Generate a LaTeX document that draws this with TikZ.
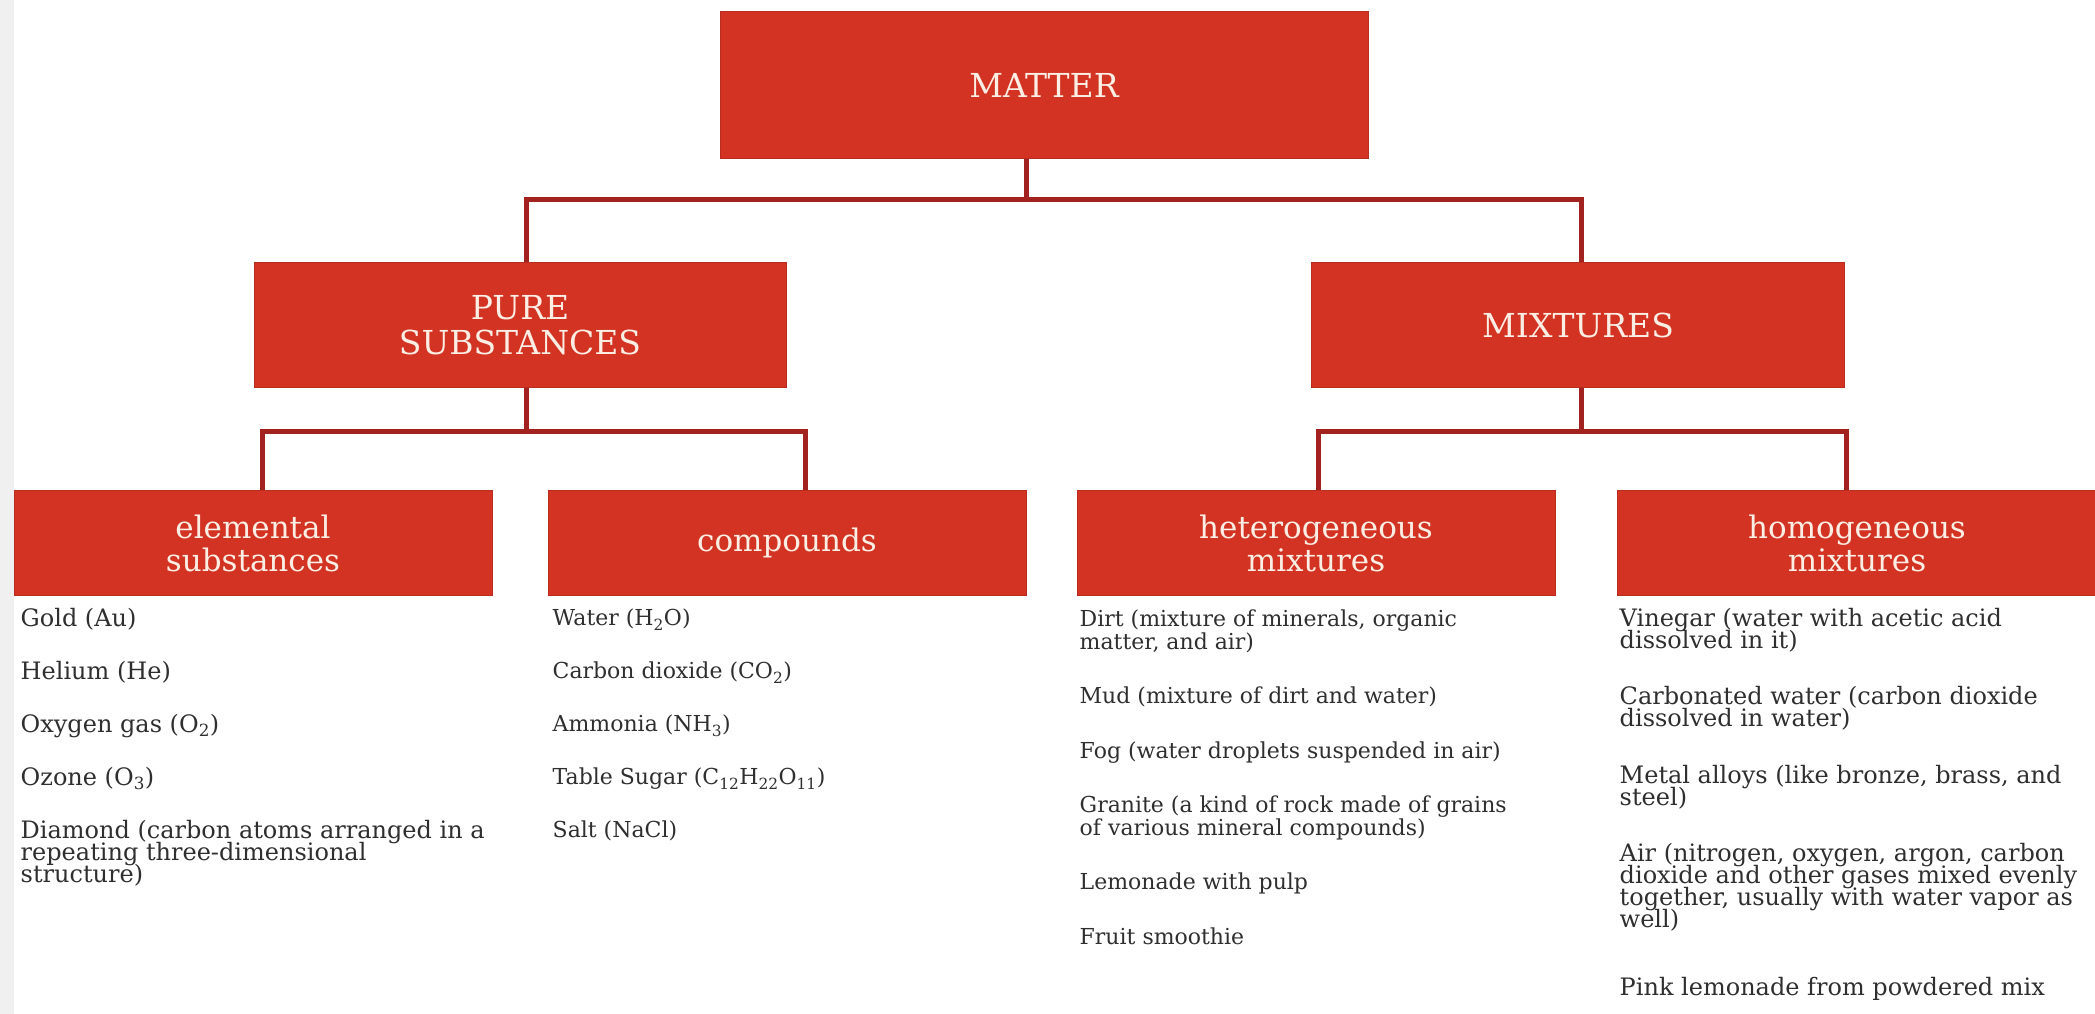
\documentclass[tikz,border=0pt]{standalone}
\usepackage{fontspec}
\setmainfont{DejaVu Serif}
\usetikzlibrary{positioning}

\definecolor{boxred}{HTML}{D23322}
\definecolor{linered}{HTML}{A1221E}
\definecolor{boxtext}{HTML}{FCEEE4}
\definecolor{listtext}{HTML}{2F2F2F}
\definecolor{edgegray}{HTML}{F0F0F0}

\newcommand{\itemgap}[1][32pt]{\\[#1]}
\newcommand{\tightlines}{\lineskiplimit-20pt\relax}

\begin{document}
\begin{tikzpicture}[x=1pt, y=-1pt, node distance=55pt]

        \tikzstyle{head}=[fill=boxred, draw=boxred!88!black, line width=1pt, text=boxtext, align=center, inner sep=0pt, font=\fontsize{33}{35}\selectfont]
        \tikzstyle{sub}=[head, minimum width=478pt, minimum height=105pt, font=\fontsize{31}{33}\selectfont]
        \tikzstyle{list}=[align=left, inner sep=0pt, text=listtext, font=\fontsize{22}{22.5}\selectfont\tightlines]
        \tikzstyle{biglist}=[list, font=\fontsize{24}{22}\selectfont\tightlines]
        \tikzstyle{link}=[draw=linered, line width=5pt]

        \useasboundingbox (0,0) rectangle (2095,1014);
        \fill[edgegray] (0,0) rectangle (2095,1014);
        \fill[white] (14,0) rectangle (2095,1014);

        \node[head, minimum width=648pt, minimum height=146pt] (matter) at (1044,85) {MATTER};
        \node[head, minimum width=532pt, minimum height=125pt] (pure) at (520,325) {PURE\\SUBSTANCES};
        \node[head, minimum width=533pt, minimum height=125pt] (mix) at (1578,325) {MIXTURES};

        \node[sub] (elem) at (253,543) {elemental\\substances};
        \node[sub] (comp) [right=55pt of elem] {compounds};
        \node[sub] (hetero) [right=50pt of comp] {heterogeneous\\mixtures};
        \node[sub, minimum width=480pt] (homo) [right=61pt of hetero] {homogeneous\\mixtures};

        \node[biglist] (elemlist) [below right=12pt and 7pt of elem.south west]
            {Gold (Au)\itemgap[31pt] Helium (He)\itemgap[31pt] Oxygen gas (O\textsubscript{2})\itemgap[31pt]
             Ozone (O\textsubscript{3})\itemgap[31pt] Diamond (carbon atoms arranged in a\\
             repeating three-dimensional\\ structure)};
        \node[list] (complist) [below right=13pt and 5pt of comp.south west]
            {Water (H\textsubscript{2}O)\itemgap[30.5pt] Carbon dioxide (CO\textsubscript{2})\itemgap[30.5pt]
             Ammonia (NH\textsubscript{3})\itemgap[30.5pt]
             Table Sugar (C\textsubscript{12}H\textsubscript{22}O\textsubscript{11})\itemgap[30.5pt] Salt (NaCl)};
        \node[list] (heterolist) [below right=14pt and 3pt of hetero.south west]
            {Dirt (mixture of minerals, organic\\ matter, and air)\itemgap
             Mud (mixture of dirt and water)\itemgap Fog (water droplets suspended in air)\itemgap
             Granite (a kind of rock made of grains\\ of various mineral compounds)\itemgap
             Lemonade with pulp\itemgap Fruit smoothie};
        \node[biglist] (homolist) [below right=12pt and 3pt of homo.south west]
            {Vinegar (water with acetic acid\\ dissolved in it)\itemgap[34.5pt]
             Carbonated water (carbon dioxide\\ dissolved in water)\itemgap[34.5pt]
             Metal alloys (like bronze, brass, and\\ steel)\itemgap[34.5pt]
             Air (nitrogen, oxygen, argon, carbon\\ dioxide and other gases mixed evenly\\
             together, usually with water vapor as\\ well)\itemgap[46pt]
             Pink lemonade from powdered mix};

        \draw[link] ([xshift=-18pt]matter.south) -- ++(0,41) -| ([xshift=6pt]pure.north);
        \draw[link] ([xshift=-18pt]matter.south) -- ++(0,41) -| ([xshift=3pt]mix.north);
        \draw[link] ([xshift=6pt]pure.south) -- ++(0,43) -| ([xshift=9pt]elem.north);
        \draw[link] ([xshift=6pt]pure.south) -- ++(0,43) -| ([xshift=18pt]comp.north);
        \draw[link] ([xshift=3pt]mix.south) -- ++(0,43) -| ([xshift=2pt]hetero.north);
        \draw[link] ([xshift=3pt]mix.south) -- ++(0,43) -| ([xshift=-11pt]homo.north);

\end{tikzpicture}
\end{document}
